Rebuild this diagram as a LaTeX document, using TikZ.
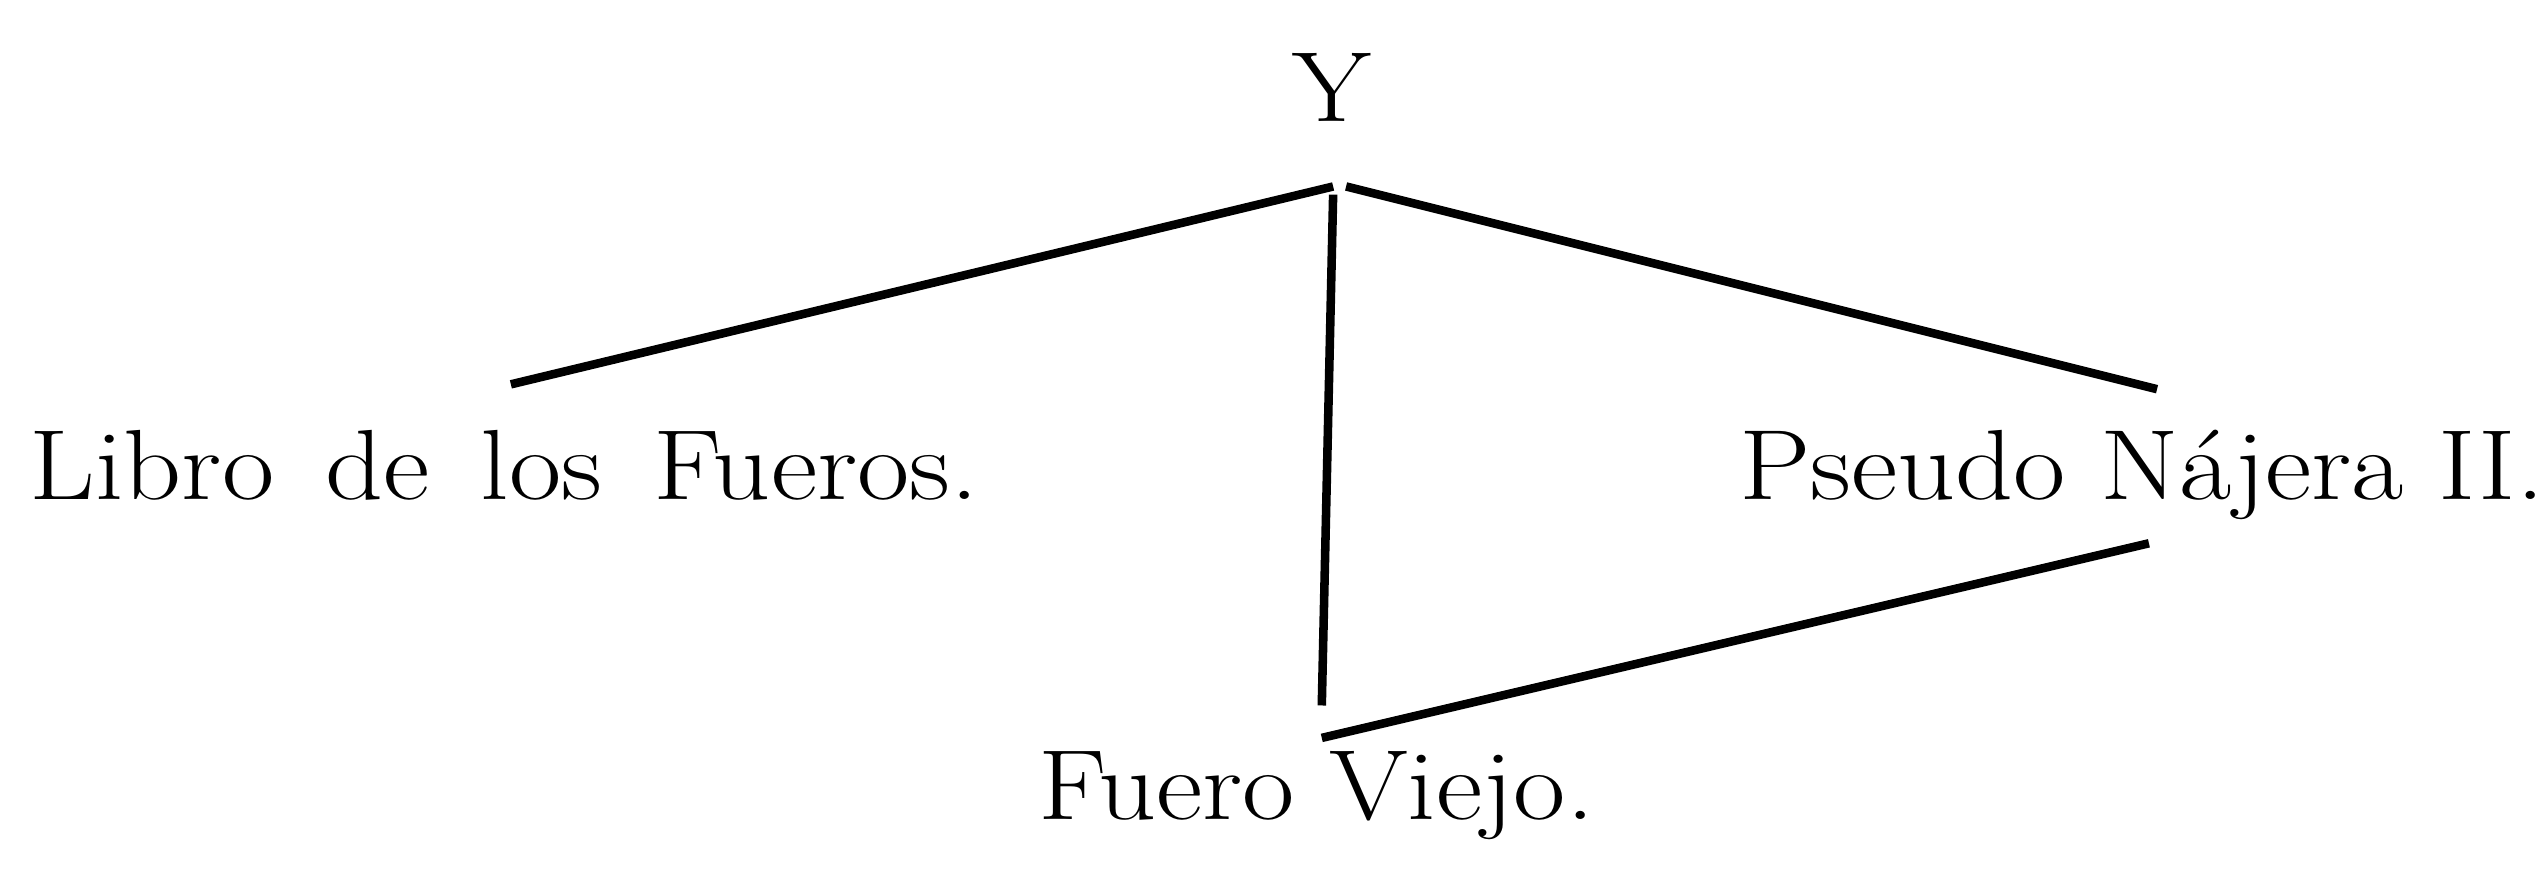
\documentclass[tikz,border=0pt]{standalone}
\usepackage{fontspec}
\newcommand{\widetxt}[1]{\scalebox{1.14}[1]{#1}}
\begin{document}
\begin{tikzpicture}[x=0.02cm,y=0.02cm,
  lbl/.style={inner sep=0pt,font=\fontsize{35}{42}\selectfont},
  edge/.style={line width=3pt,line cap=butt}]
\useasboundingbox (0,0) rectangle (1568,536);
\node[lbl,anchor=base] (Y) at (821,461) {\widetxt{Y}};
\node[lbl,anchor=base west] (libro) at (18,228) {\widetxt{Libro\hspace{0.45em}de\hspace{0.45em}los\hspace{0.45em}Fueros.}};
\node[lbl,anchor=base west] (pseudo) at (1072,228) {\widetxt{Pseudo Nájera II.}};
\node[lbl,anchor=base west] (fuero) at (640,31) {\widetxt{Fuero Viejo.}};
\coordinate (ytl) at (822,421);
\coordinate (ytr) at (830,421);
\coordinate (ytv) at (822,416);
\coordinate (lend) at (315,299);
\coordinate (rend) at (1330,296);
\coordinate (vend) at (815,101);
\coordinate (fstart) at (815,81);
\coordinate (pend) at (1325,201);
\draw[edge] (ytl) -- (lend);
\draw[edge] (ytr) -- (rend);
\draw[edge] (ytv) -- (vend);
\draw[edge] (fstart) -- (pend);
\end{tikzpicture}
\end{document}
